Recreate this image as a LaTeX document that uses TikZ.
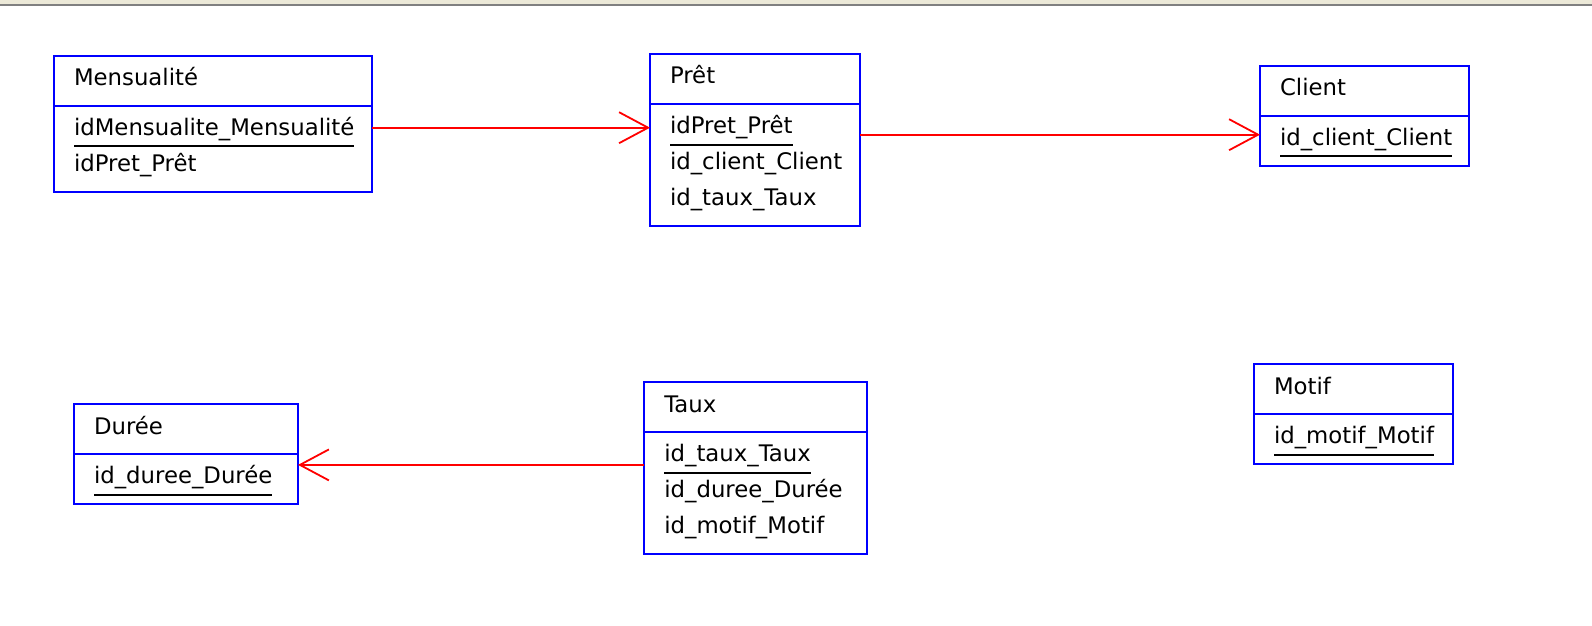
\documentclass[tikz,border=0pt]{standalone}
\usepackage{fontspec}
\setmainfont{DejaVu Sans}
\usepackage{xcolor}
\usetikzlibrary{arrows.meta, calc, positioning}

\definecolor{winbar}{RGB}{236,233,216}
\newcommand{\entfont}{\fontsize{22.8}{36}\selectfont\hyphenpenalty10000 \exhyphenpenalty10000 \hbadness10000 }
% primary key: underlined first attribute
\newcommand{\pk}[1]{\setbox0\hbox{#1}\rlap{\rule[-12pt]{\wd0}{2pt}}\box0}

\begin{document}
\begin{tikzpicture}[x=1pt, y=-1pt,
  ent/.style={draw=blue, line width=2.2pt, inner xsep=20pt, inner ysep=0pt, outer sep=0pt,
    anchor=north west, align=left, font=\entfont},
  head/.style={ent, text height=30pt, text depth=20pt},
  body/.style={ent, below=0pt of #1, text height=29.5pt},
  fk/.style={red, line width=1.8pt, -{Straight Barb[length=29pt, width=31pt]}}]
\useasboundingbox (0,0) rectangle (1592,626);

% Window bar
\fill[winbar] (0,0) rectangle (1592,4);
\fill[gray] (0,4) rectangle (1592,6);

% Mensualite
\node[head, text width=278pt] (mens) at (54,55.7) {Mensualité};
\node[body=mens, text width=278pt, text depth=56.5pt] (mensB) {\pk{idMensualite\_Mensualité}\\idPret\_Prêt};

% Pret
\node[head, text width=170pt] (pret) at (650,54) {Prêt};
\node[body=pret, text width=170pt, text depth=92.5pt] (pretB) {\pk{idPret\_Prêt}\\id\_client\_Client\\id\_taux\_Taux};

% Client
\node[head, text width=169pt] (client) at (1260,65.7) {Client};
\node[body=client, text width=169pt, text depth=20.5pt] (clientB) {\pk{id\_client\_Client}};

% Duree
\node[head, text width=184pt] (duree) at (74,404) {Durée};
\node[body=duree, text width=184pt, text depth=20.5pt] (dureeB) {\pk{id\_duree\_Durée}};

% Taux
\node[head, text width=183pt] (taux) at (644.3,382.3) {Taux};
\node[body=taux, text width=183pt, text depth=92.5pt] (tauxB) {\pk{id\_taux\_Taux}\\id\_duree\_Durée\\id\_motif\_Motif};

% Motif
\node[head, text width=159pt] (motif) at (1254,364) {Motif};
\node[body=motif, text width=159pt, text depth=20.5pt] (motifB) {\pk{id\_motif\_Motif}};

% Foreign keys
\coordinate (r1) at ([yshift=-22pt]mensB.north east);
\draw[fk] (r1) -- (r1 -| pretB.west);
\coordinate (r2) at ([yshift=-30.7pt]pretB.north east);
\draw[fk] (r2) -- (r2 -| clientB.west);
\coordinate (r3) at ([yshift=-32.6pt]tauxB.north west);
\draw[fk] (r3) -- (r3 -| dureeB.east);
\end{tikzpicture}
\end{document}
